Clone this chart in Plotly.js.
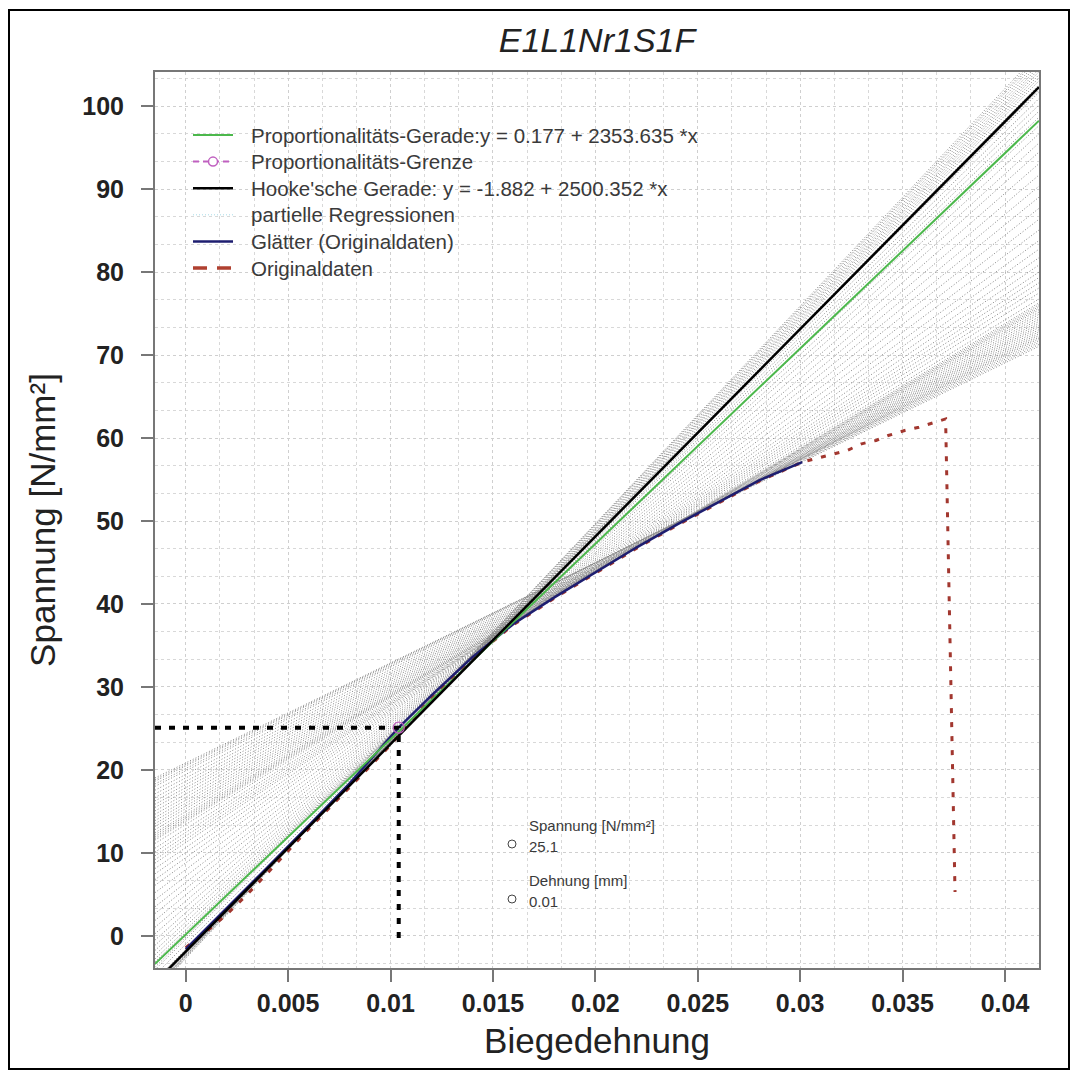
<!DOCTYPE html>
<html><head><meta charset="utf-8">
<script src="https://cdn.plot.ly/plotly-3.0.1.min.js"></script>
<style>html,body{margin:0;padding:0;background:#fff}#chart{width:1080px;height:1080px}</style>
</head><body><div id="chart"></div><script>
// ---------- data ----------
const xRange = [-0.0015, 0.04166];
const yRange = [-3.86, 104.1];
const xTickVals = [0, 0.005, 0.01, 0.015, 0.02, 0.025, 0.03, 0.035, 0.04];
const xTickText = ["0", "0.005", "0.01", "0.015", "0.02", "0.025", "0.03", "0.035", "0.04"];
const yTickVals = [0, 10, 20, 30, 40, 50, 60, 70, 80, 90, 100];

const propLineIntercept = 0.177, propLineSlope = 2353.635;
const hookeIntercept = -1.882, hookeSlope = 2500.352;

const propLimitX = 0.0104, propLimitY = 25.1;
const dropBottomY = -0.5;

const legendLabels = [
  'Proportionalitäts-Gerade:y = 0.177 + 2353.635 *x',
  'Proportionalitäts-Grenze',
  "Hooke'sche Gerade: y = -1.882 + 2500.352 *x",
  'partielle Regressionen',
  'Glätter (Originaldaten)',
  'Originaldaten'
];

// Glätter (Originaldaten)
const smoothX = [0, 0.002, 0.004, 0.006, 0.008, 0.0104, 0.012, 0.014, 0.016, 0.018, 0.020, 0.022, 0.024, 0.026, 0.028, 0.0301];
const smoothY = [-1.6, 3.3, 8.3, 13.3, 18.4, 25.1, 29.0, 33.6, 37.6, 40.8, 43.8, 46.8, 49.6, 52.3, 54.9, 57.1];

// Originaldaten
const origX = [0, 0.001, 0.002, 0.003, 0.004, 0.005, 0.006, 0.008, 0.010, 0.012, 0.014, 0.016, 0.018, 0.020, 0.022, 0.024, 0.026, 0.028, 0.0301, 0.0309, 0.0316, 0.0323, 0.0330, 0.0337, 0.0343, 0.0351, 0.0358, 0.0364, 0.0371, 0.03756];
const origY = [-1.4, 0.5, 2.6, 5.0, 7.6, 10.3, 12.9, 17.9, 23.0, 28.7, 33.5, 37.5, 40.7, 43.7, 46.7, 49.5, 52.2, 54.8, 57.1, 57.6, 58.1, 58.5, 59.3, 59.7, 60.3, 60.9, 61.3, 61.8, 62.3, 5.3];

// partielle Regressionen (slope, intercept)
const regSlope = [2620, 2610, 2600, 2590, 2580, 2570, 2560, 2550, 2540, 2530, 2520, 2505, 2490, 2470,
  2450, 2425, 2400, 2375, 2350, 2315, 2280, 2240, 2200, 2150, 2100, 2050, 2000, 1950, 1900, 1850, 1800, 1760, 1720, 1685, 1650, 1625, 1600, 1575, 1550,
  1520, 1500, 1490, 1480, 1470, 1460, 1445, 1430, 1415, 1400, 1385, 1370, 1355, 1340, 1325, 1310, 1295, 1280, 1265, 1250, 1238, 1225, 1215, 1205];
const regIntercept = [-2.7, -2.6, -2.45, -2.4, -2.35, -2.3, -2.2, -2.1, -2.05, -2.0, -1.95, -1.8, -1.6, -1.0,
  -0.40, -0.13, 0.15, 0.44, 0.75, 1.20, 1.67, 2.23, 2.8, 3.49, 4.2, 4.94, 5.7, 6.44, 7.2, 7.99, 8.8, 9.43, 10.07, 10.65, 11.25, 11.64, 12.05, 12.47, 12.9,
  13.43, 13.8, 13.99, 14.2, 14.42, 14.64, 14.98, 15.34, 15.66, 16.0, 16.35, 16.72, 17.1, 17.5, 17.86, 18.24, 18.63, 19.04, 19.46, 19.9, 20.17, 20.48, 20.66, 20.85];

// ---------- styles ----------
const FONT = "Liberation Sans, Arial, sans-serif";
const C = {green: '#4cb84c', purple: '#c060c0', black: '#000000', fan: '#858585', fanLegend: '#a8dce8', navy: '#1e1e70', red: '#a2372f'};
const legendStyles = [
  {color: C.green, width: 2, dash: 'solid'},
  {color: C.purple, width: 2, dash: '6px,4px', marker: true},
  {color: C.black, width: 2.5, dash: 'solid'},
  {color: C.fanLegend, width: 1, dash: '1px,2px'},
  {color: C.navy, width: 2.5, dash: 'solid'},
  {color: '#b04030', width: 3.5, dash: '14px,10px'}
];

// ---------- build ----------
const lineAt = (b, s) => xRange.map(x => b + s * x);

const fanX = [], fanY = [];
regSlope.forEach((s, i) => {
  const ys = lineAt(regIntercept[i], s);
  fanX.push(xRange[0], xRange[1], null);
  fanY.push(ys[0], ys[1], null);
});

const traces = [
  {x: fanX, y: fanY, mode: 'lines', line: {color: C.fan, width: 1, dash: '1px,2px'}, hoverinfo: 'skip'},
  {x: origX, y: origY, mode: 'lines', line: {color: C.red, width: 3, dash: '5px,9px'}},
  {x: smoothX, y: smoothY, mode: 'lines', line: {color: C.navy, width: 2.5}},
  {x: xRange, y: lineAt(propLineIntercept, propLineSlope), mode: 'lines', line: {color: C.green, width: 2}},
  {x: xRange, y: lineAt(hookeIntercept, hookeSlope), mode: 'lines', line: {color: C.black, width: 2.5}},
  {x: [xRange[0], propLimitX, propLimitX], y: [propLimitY, propLimitY, dropBottomY], mode: 'lines', line: {color: '#000', width: 4, dash: '6px,8px'}},
  {x: [propLimitX], y: [propLimitY], mode: 'markers', marker: {symbol: 'circle-open', size: 11, color: C.purple, line: {width: 1.2}}}
];

const L = 155, R = 41, T = 72, B = 112, W = 1080, H = 1080;
const pw = W - L - R, ph = H - T - B;
const px = v => (v - L) / pw;
const py = v => 1 - (v - T) / ph;

const annText = (x, y, text, size) => ({xref: 'paper', yref: 'paper', x: px(x), y: py(y), text, showarrow: false,
  xanchor: 'left', yanchor: 'middle', font: {family: FONT, size: size, color: '#3a3a3a'}});

// legend (drawn manually to match row spacing)
const legTop = 135, legStep = 26.6, legSampleX0 = 193, legSampleX1 = 233, legTextX = 249;
const legendAnns = legendLabels.map((t, i) => annText(legTextX, legTop + i * legStep, t, 20.5));
const legendShapes = [];
legendStyles.forEach((st, i) => {
  const yy = py(legTop + i * legStep);
  legendShapes.push({type: 'line', xref: 'paper', yref: 'paper', x0: px(legSampleX0), x1: px(legSampleX1), y0: yy, y1: yy,
    line: {color: st.color, width: st.width, dash: st.dash}});
  if (st.marker) {
    legendShapes.push({type: 'circle', xref: 'paper', yref: 'paper', xsizemode: 'pixel', ysizemode: 'pixel',
      xanchor: px((legSampleX0 + legSampleX1) / 2), yanchor: yy, x0: -4.5, x1: 4.5, y0: -4.5, y1: 4.5,
      fillcolor: '#fff', line: {color: st.color, width: 1.5}});
  }
});

const layout = {
  width: W, height: H,
  margin: {l: L, r: R, t: T, b: B},
  showlegend: false,
  paper_bgcolor: '#fff', plot_bgcolor: '#fff',
  font: {family: FONT, color: '#222'},
  title: {text: '<i>E1L1Nr1S1F</i>', font: {family: FONT, size: 34, color: '#222'}, x: 0.5, xref: 'paper', y: 1 - 40 / H, yref: 'container', yanchor: 'middle'},
  xaxis: {range: xRange, tickmode: 'array', tickvals: xTickVals, ticktext: xTickText,
    showline: true, mirror: true, linecolor: '#777', linewidth: 2, zeroline: false,
    ticks: 'outside', ticklen: 12, tickwidth: 2, tickcolor: '#777',
    tickfont: {family: FONT, size: 25, weight: 'bold', color: '#222'},
    showgrid: true, gridcolor: '#cfcfcf', griddash: 'dot', gridwidth: 1,
    minor: {tickmode: 'linear', tick0: 0, dtick: 0.005 / 3, showgrid: true, gridcolor: '#d8d8d8', griddash: 'dot', gridwidth: 1, ticklen: 0},
    title: {text: 'Biegedehnung', font: {family: FONT, size: 35, color: '#222'}, standoff: 12}},
  yaxis: {range: yRange, tickmode: 'array', tickvals: yTickVals,
    showline: true, mirror: true, linecolor: '#777', linewidth: 2, zeroline: false,
    ticks: 'outside', ticklen: 12, tickwidth: 2, tickcolor: '#777', ticklabelstandoff: 12,
    tickfont: {family: FONT, size: 25, weight: 'bold', color: '#222'},
    showgrid: true, gridcolor: '#cfcfcf', griddash: 'dot', gridwidth: 1,
    minor: {tickmode: 'linear', tick0: 0, dtick: 10 / 3, showgrid: true, gridcolor: '#d8d8d8', griddash: 'dot', gridwidth: 1, ticklen: 0},
    title: {text: 'Spannung [N/mm²]', font: {family: FONT, size: 35, color: '#222'}, standoff: 16}},
  annotations: [
    ...legendAnns,
    annText(527, 825, 'Spannung [N/mm²]', 15),
    annText(527, 846, '25.1', 15),
    annText(527, 880, 'Dehnung [mm]', 15),
    annText(527, 901, '0.01', 15)
  ],
  shapes: [
    {type: 'rect', xref: 'paper', yref: 'paper', x0: px(9), x1: px(1069), y0: py(10), y1: py(1069), line: {color: '#000', width: 2}, layer: 'below'},
    {type: 'circle', xref: 'paper', yref: 'paper', xsizemode: 'pixel', ysizemode: 'pixel', xanchor: px(512), yanchor: py(844), x0: -4, x1: 4, y0: -4, y1: 4, line: {color: '#444', width: 1}},
    {type: 'circle', xref: 'paper', yref: 'paper', xsizemode: 'pixel', ysizemode: 'pixel', xanchor: px(512), yanchor: py(899), x0: -4, x1: 4, y0: -4, y1: 4, line: {color: '#444', width: 1}},
    ...legendShapes
  ]
};

Plotly.newPlot('chart', traces, layout, {displayModeBar: false, staticPlot: true});
</script></body></html>
